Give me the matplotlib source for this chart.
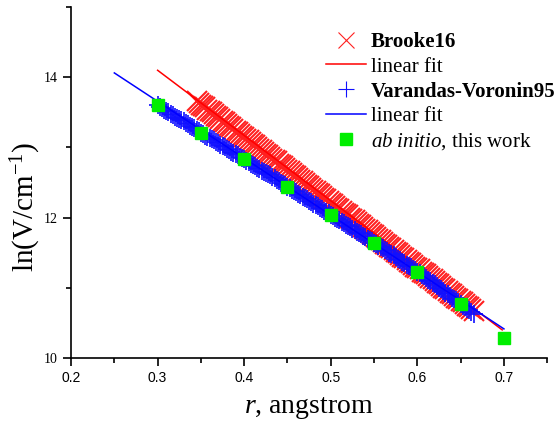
import matplotlib
matplotlib.use("Agg")
import matplotlib.pyplot as plt
import numpy as np
from matplotlib.ticker import MultipleLocator

# ---- data ----
# Brooke16: dense sampling from r = 0.345 to 0.665 angstrom (uniform grid)
brooke_r_start, brooke_r_end = 0.345, 0.665
brooke_lnV = [
    13.66, 13.64, 13.61, 13.59, 13.57, 13.54, 13.52, 13.50, 13.47, 13.45,
    13.43, 13.40, 13.38, 13.36, 13.33, 13.31, 13.29, 13.26, 13.24, 13.22,
    13.19, 13.17, 13.15, 13.12, 13.10, 13.08, 13.05, 13.03, 13.01, 12.98,
    12.96, 12.94, 12.91, 12.89, 12.87, 12.84, 12.82, 12.80, 12.77, 12.75,
    12.73, 12.70, 12.68, 12.66, 12.63, 12.61, 12.59, 12.56, 12.54, 12.52,
    12.49, 12.47, 12.45, 12.42, 12.40, 12.38, 12.35, 12.33, 12.31, 12.28,
    12.26, 12.24, 12.21, 12.19, 12.17, 12.14, 12.12, 12.10, 12.07, 12.05,
    12.03, 12.00, 11.98, 11.96, 11.93, 11.91, 11.89, 11.86, 11.84, 11.82,
    11.79, 11.77, 11.75, 11.72, 11.70, 11.68, 11.65, 11.63, 11.61, 11.58,
    11.56, 11.54, 11.51, 11.49, 11.47, 11.44, 11.42, 11.40, 11.37, 11.35,
    11.33, 11.30, 11.28, 11.26, 11.23, 11.21, 11.19, 11.16, 11.14, 11.12,
    11.09, 11.07, 11.05, 11.02, 11.00, 10.98, 10.95, 10.93, 10.91, 10.88,
    10.86, 10.84, 10.81, 10.79, 10.77, 10.74, 10.72, 10.70, 10.67]

# Varandas-Voronin95: dense sampling from r = 0.300 to 0.665 angstrom (uniform grid)
vv_r_start, vv_r_end = 0.300, 0.665
vv_lnV = [
    13.60, 13.58, 13.56, 13.54, 13.52, 13.50, 13.48, 13.46, 13.44, 13.425,
    13.41, 13.39, 13.37, 13.35, 13.33, 13.31, 13.29, 13.27, 13.25, 13.23,
    13.21, 13.19, 13.17, 13.15, 13.13, 13.115, 13.10, 13.08, 13.06, 13.04,
    13.02, 13.00, 12.98, 12.96, 12.94, 12.925, 12.91, 12.89, 12.87, 12.85,
    12.83, 12.81, 12.79, 12.77, 12.75, 12.73, 12.71, 12.69, 12.67, 12.655,
    12.64, 12.62, 12.60, 12.58, 12.56, 12.54, 12.52, 12.50, 12.48, 12.46,
    12.44, 12.42, 12.40, 12.38, 12.36, 12.34, 12.32, 12.30, 12.28, 12.26,
    12.24, 12.22, 12.20, 12.18, 12.16, 12.14, 12.12, 12.10, 12.08, 12.06,
    12.04, 12.02, 12.00, 11.98, 11.96, 11.94, 11.92, 11.90, 11.88, 11.86,
    11.84, 11.82, 11.80, 11.78, 11.76, 11.74, 11.72, 11.70, 11.68, 11.66,
    11.64, 11.62, 11.60, 11.58, 11.56, 11.54, 11.52, 11.50, 11.48, 11.46,
    11.44, 11.415, 11.39, 11.37, 11.35, 11.33, 11.31, 11.29, 11.27, 11.25,
    11.23, 11.205, 11.18, 11.16, 11.14, 11.115, 11.09, 11.07, 11.05, 11.025,
    11.00, 10.975, 10.95, 10.93, 10.91, 10.885, 10.86, 10.84, 10.82, 10.795,
    10.77, 10.745, 10.72, 10.70, 10.68, 10.655, 10.63]

abinitio_r = [0.30, 0.35, 0.40, 0.45, 0.50, 0.55, 0.60, 0.65, 0.70]
abinitio_lnV = [13.60, 13.21, 12.83, 12.44, 12.04, 11.64, 11.23, 10.77, 10.29]

# linear fits: lnV = a + b*r over a range
brooke_fit_a, brooke_fit_b = 16.89, -9.30
brooke_fit_range = [0.30, 0.698]
vv_fit_a, vv_fit_b = 16.09, -8.11
vv_fit_range = [0.25, 0.70]

xticks = [0.2, 0.3, 0.4, 0.5, 0.6, 0.7]
yticks = [10, 12, 14]

legend_labels = ['Brooke16', 'linear fit', 'Varandas-Voronin95', 'linear fit',
                 r'$\it{ab\ initio}$, this work']

# ---- figure ----
plt.rcParams['mathtext.fontset'] = 'custom'
plt.rcParams['mathtext.rm'] = 'Liberation Serif'
plt.rcParams['mathtext.it'] = 'Liberation Serif:italic'
plt.rcParams['mathtext.bf'] = 'Liberation Serif:bold'

fig = plt.figure(figsize=(5.55, 4.21), dpi=100)
ax = fig.add_axes([0.128, 0.150, 0.858, 0.833])

brooke_r = np.linspace(brooke_r_start, brooke_r_end, len(brooke_lnV))
vv_r = np.linspace(vv_r_start, vv_r_end, len(vv_lnV))

ax.plot(brooke_r, brooke_lnV, ls='none', marker='x', color='#ff2020',
        ms=14, mew=1.5, label=legend_labels[0])
xb = np.array(brooke_fit_range)
ax.plot(xb, brooke_fit_a + brooke_fit_b * xb, color='red', lw=1.1, label=legend_labels[1])
ax.plot(vv_r, vv_lnV, ls='none', marker='+', color='#1010ff',
        ms=13, mew=1.2, label=legend_labels[2])
xv = np.array(vv_fit_range)
ax.plot(xv, vv_fit_a + vv_fit_b * xv, color='blue', lw=1.1, label=legend_labels[3])
ax.plot(abinitio_r, abinitio_lnV, ls='none', marker='s', color='#00ee00',
        ms=8, mec='#00ee00', label=legend_labels[4], zorder=5)

ax.set_xlim(0.2, 0.75)
ax.set_ylim(10, 15)
ax.set_xticks(xticks)
ax.set_yticks(yticks)
ax.xaxis.set_minor_locator(MultipleLocator(0.05))
ax.yaxis.set_minor_locator(MultipleLocator(1))
ax.spines['top'].set_visible(False)
ax.spines['right'].set_visible(False)
for s in ['left', 'bottom']:
    ax.spines[s].set_linewidth(1.2)
ax.tick_params(which='major', direction='out', length=6, width=1.2)
ax.tick_params(which='minor', direction='out', length=3.5, width=1.2)
ax.set_xticklabels([f'{t:.1f}' for t in xticks], fontfamily='Liberation Sans', fontsize=10)
ax.set_yticklabels([str(t) for t in yticks], fontfamily='Liberation Serif', fontsize=10)

ax.set_xlabel(r'$\it{r}$, angstrom', fontfamily='Liberation Serif', fontsize=20)
ax.xaxis.set_label_coords(0.5, -0.105)
ax.set_ylabel(r'ln(V/cm$^{\mathrm{-1}}$)', fontfamily='Liberation Serif', fontsize=21)
ax.yaxis.set_label_coords(-0.058, 0.43)

leg = fig.legend(*ax.get_legend_handles_labels(), loc='upper left',
                 bbox_to_anchor=(326 / 555, 1 - 32 / 421), frameon=False,
                 prop={'family': 'Liberation Serif', 'size': 15},
                 handlelength=1.9, handletextpad=0.25, labelspacing=0.24,
                 borderpad=0.0, borderaxespad=0.0)
texts = leg.get_texts()
texts[0].set_fontweight('bold')
texts[2].set_fontweight('bold')
handles = leg.legend_handles
handles[0].set_markeredgewidth(0.8)
handles[0].set_markersize(11)
handles[2].set_markeredgewidth(0.8)
handles[2].set_markersize(11)

fig.savefig('out.png', dpi=100)
